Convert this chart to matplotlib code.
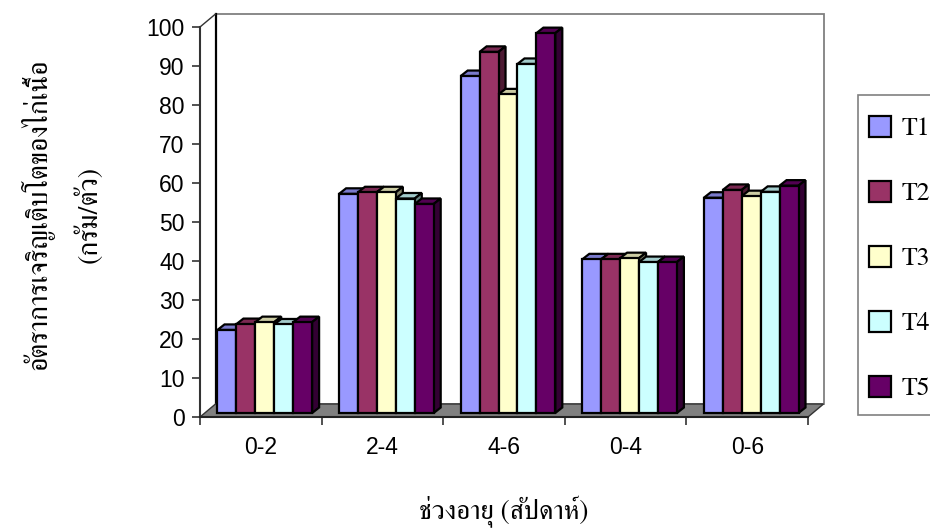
import matplotlib
matplotlib.use("Agg")
import matplotlib.pyplot as plt
from matplotlib.patches import Polygon, Rectangle, Patch
from matplotlib.transforms import ScaledTranslation
import numpy as np

# ---- data -----------------------------------------------------------------
categories = ["0-2", "2-4", "4-6", "0-4", "0-6"]
series_names = ["T1", "T2", "T3", "T4", "T5"]
t1 = [21.3, 56.2, 86.4, 39.4, 55.2]
t2 = [22.8, 56.6, 92.6, 39.4, 57.2]
t3 = [23.3, 56.6, 81.7, 39.7, 55.6]
t4 = [22.7, 55.0, 89.5, 38.7, 56.7]
t5 = [23.3, 53.6, 97.4, 38.7, 58.3]
series_values = [t1, t2, t3, t4, t5]
y_ticks = list(range(0, 101, 10))

front_colors = ["#9999FF", "#993366", "#FFFFCC", "#CCFFFF", "#660066"]

# ---- fonts ----------------------------------------------------------------
plt.rcParams["font.family"] = ["Liberation Sans", "DejaVu Sans"]
thai_font = ["FreeSerif", "DejaVu Sans"]


def shade(hex_color, k):
    c = np.array(matplotlib.colors.to_rgb(hex_color))
    return tuple(c * k)


# ---- figure / axes (front plane of the 3-D box) ---------------------------
W, H, DPI = 930, 530, 100
fig = plt.figure(figsize=(W / DPI, H / DPI), dpi=DPI)
ax_left, ax_right, ax_bottom, ax_top = 200, 808, 417, 27
ax = fig.add_axes([ax_left / W, 1 - ax_bottom / H,
                   (ax_right - ax_left) / W, (ax_bottom - ax_top) / H])
n_cat = len(categories)
ax.set_xlim(0, n_cat)
ax.set_ylim(0, 100)
ax.patch.set_visible(False)

# pixel -> data conversion on this axes
px_x = n_cat / (ax_right - ax_left)
px_y = 100 / (ax_bottom - ax_top)

# depth of the chart box (walls/floor) and of each bar
wall_dx, wall_dy = 15.5 * px_x, 13 * px_y
bar_dx, bar_dy = 7 * px_x, 5.5 * px_y

# back wall
ax.add_patch(Rectangle((wall_dx, wall_dy), n_cat, 100, facecolor="white",
                       edgecolor="#808080", lw=1.3, clip_on=False, zorder=0.5))
ax.plot([wall_dx, wall_dx], [wall_dy, 100 + wall_dy], color="black", lw=1.6,
        clip_on=False, zorder=0.6)
ax.plot([0, wall_dx], [100, 100 + wall_dy], color="#333333", lw=1.0,
        clip_on=False, zorder=0.6)
# floor
ax.add_patch(Polygon([(0, 0), (n_cat, 0), (n_cat + wall_dx, wall_dy), (wall_dx, wall_dy)],
                     closed=True, facecolor="#808080", edgecolor="#333333", lw=1.0,
                     clip_on=False, zorder=0.7))

# bars sit a few pixels back from the front plane
bar_trans = ax.transData + ScaledTranslation(4 / DPI, 4 / DPI, fig.dpi_scale_trans)

n_ser = len(series_values)
group_width = 0.778
bar_w = group_width / n_ser
edge_lw = 1.6
z = 2
for ci in range(n_cat):
    x_start = ci + (1 - group_width) / 2
    for si in range(n_ser):
        v = series_values[si][ci]
        x0 = x_start + si * bar_w
        x1 = x0 + bar_w
        col = front_colors[si]
        top = Polygon([(x0, v), (x1, v), (x1 + bar_dx, v + bar_dy), (x0 + bar_dx, v + bar_dy)],
                      closed=True, facecolor=shade(col, 0.8), edgecolor="black",
                      lw=edge_lw, transform=bar_trans, clip_on=False, zorder=z,
                      joinstyle="miter")
        side = Polygon([(x1, 0), (x1 + bar_dx, bar_dy), (x1 + bar_dx, v + bar_dy), (x1, v)],
                       closed=True, facecolor=shade(col, 0.5), edgecolor="black",
                       lw=edge_lw, transform=bar_trans, clip_on=False, zorder=z,
                       joinstyle="miter")
        ax.add_patch(top)
        ax.add_patch(side)
        ax.bar(x0, v, width=bar_w, align="edge", color=col, edgecolor="black",
               linewidth=edge_lw, transform=bar_trans, clip_on=False, zorder=z + 0.5,
               joinstyle="miter")
        z += 1

# ---- axes styling ---------------------------------------------------------
for s in ("top", "right"):
    ax.spines[s].set_visible(False)
ax.spines["left"].set_color("#333333")
ax.spines["left"].set_linewidth(1.5)
ax.spines["bottom"].set_color("#222222")
ax.spines["bottom"].set_linewidth(1.5)
ax.spines["left"].set_zorder(100)
ax.spines["bottom"].set_zorder(100)

ax.set_yticks(y_ticks)
ax.tick_params(axis="y", direction="out", length=6, width=1.2, color="#333333",
               pad=5, labelsize=16.5)
ax.set_xticks(range(n_cat + 1))
ax.set_xticklabels([])
ax.set_xticks(np.arange(n_cat) + 0.5, minor=True)
ax.set_xticklabels(categories, minor=True)
ax.tick_params(axis="x", which="major", direction="out", length=6, width=1.2,
               color="#333333")
ax.tick_params(axis="x", which="minor", length=0, pad=14, labelsize=16.5)

ax.set_ylabel("อัตราการเจริญเติบโตของไก่เนื้อ\n(กรัม/ตัว)", family=thai_font,
              fontsize=20, linespacing=1.9)
ax.yaxis.set_label_coords(-0.16, 0.52)
ax.set_xlabel("ช่วงอายุ (สัปดาห์)", family=thai_font, fontsize=19.5)
ax.xaxis.set_label_coords(0.5, -0.203)

# ---- legend ---------------------------------------------------------------
fig.patches.append(Rectangle((858 / W, 1 - 415 / H), 100 / W, 320 / H,
                             transform=fig.transFigure, facecolor="white",
                             edgecolor="#808080", lw=1.2))
handles = [Patch(facecolor=c, edgecolor="black", linewidth=1.6) for c in front_colors]
fig.legend(handles, series_names, loc="upper left",
           bbox_to_anchor=(869 / W, 1 - 116 / H), frameon=False, borderpad=0,
           borderaxespad=0, handlelength=0.86, handleheight=0.86,
           handletextpad=0.4, labelspacing=1.55,
           prop={"family": thai_font, "size": 18.5})

fig.savefig("out.png", dpi=DPI)
